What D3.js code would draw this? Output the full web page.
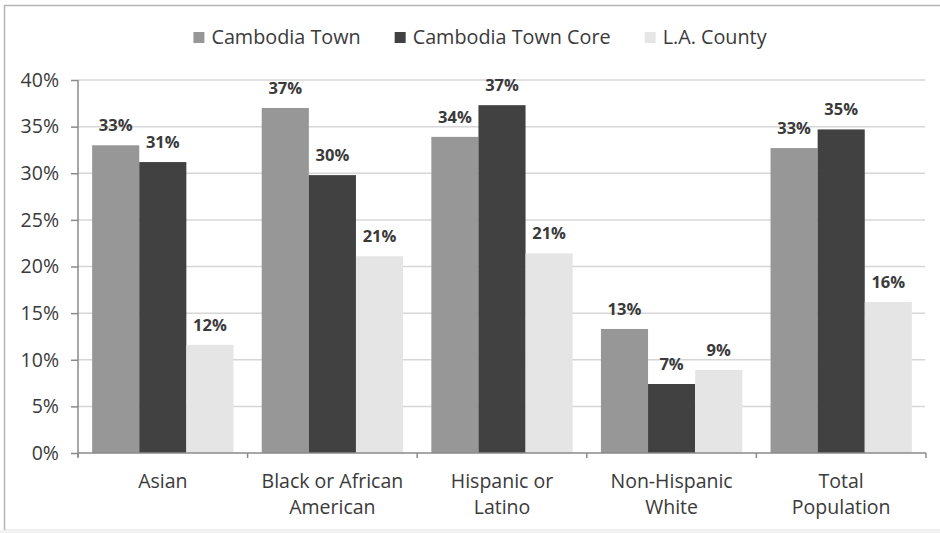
<!DOCTYPE html>
<html>
<head>
<meta charset="utf-8">
<script src="https://cdn.jsdelivr.net/npm/d3@7"></script>
<style>
  body { margin: 0; background: #fff; }
  text { font-family: "Open Sans", sans-serif; fill: #3a3a3a; }
</style>
</head>
<body>
<div id="chart"></div>
<script>
let categories = [
    ['Asian'],
    ['Black or African', 'American'],
    ['Hispanic or', 'Latino'],
    ['Non-Hispanic', 'White'],
    ['Total', 'Population']
];
let series      =   ['Cambodia Town', 'Cambodia Town Core', 'L.A. County'];
let town        =   [33.0, 37.0, 33.9, 13.3, 32.7];
let town_core   =   [31.2, 29.8, 37.3, 7.4, 34.7];
let la_county   =   [11.6, 21.1, 21.4, 8.9, 16.2];
let y_ticks     =   [0, 5, 10, 15, 20, 25, 30, 35, 40];

let colors = ['#979797', '#414141', '#e5e5e5'];
let values = [town, town_core, la_county];

let chart_width     =   940;
let chart_height    =   533;
let plot_left = 78, plot_right = 926, plot_top = 80, plot_bottom = 453;
let font_size = 19.5;

//svg
let svg = d3.select('#chart')
            .append('svg')
            .attr('width', chart_width)
            .attr('height', chart_height);

// frame
svg.append('rect')
  .attr('x', 4.5).attr('y', 5.5)
  .attr('width', 960).attr('height', 525)
  .attr('fill', 'none')
  .attr('stroke', '#b5b5b5')
  .attr('stroke-width', 1.5);
svg.append('rect')
  .attr('x', 0).attr('y', 530)
  .attr('width', chart_width).attr('height', 3)
  .attr('fill', '#f2f2f2');

//scales
let x0 = d3.scaleBand()
        .domain(d3.range(categories.length))
        .range([plot_left, plot_right]);

let x1 = d3.scaleBand()
        .domain(d3.range(series.length))
        .range([0, x0.bandwidth()])
        .paddingOuter(0.3);

let y_scale = d3.scaleLinear()
        .domain([0, 40])
        .range([plot_bottom, plot_top]);

//gridlines
svg.append('g')
  .selectAll('line')
  .data(y_ticks.filter(d => d > 0))
  .enter()
  .append('line')
  .attr('x1', plot_left).attr('x2', plot_right - 1)
  .attr('y1', d => y_scale(d)).attr('y2', d => y_scale(d))
  .attr('stroke', '#d6d6d6')
  .attr('stroke-width', 1.5);

//bars
categories.forEach((c, i) => {
  series.forEach((s, j) => {
    svg.append('rect')
      .attr('x', x0(i) + x1(j))
      .attr('y', y_scale(values[j][i]))
      .attr('width', x1.bandwidth())
      .attr('height', plot_bottom - y_scale(values[j][i]))
      .attr('fill', colors[j]);

    svg.append('text')
      .attr('x', x0(i) + x1(j) + x1.bandwidth() / 2)
      .attr('y', y_scale(values[j][i]) - 14)
      .attr('text-anchor', 'middle')
      .attr('font-size', 16.5)
      .attr('font-weight', 'bold')
      .text(Math.round(values[j][i]) + '%');
  });
});

//y axis
let y_axis = d3.axisLeft(y_scale)
        .tickValues(y_ticks)
        .tickSize(7)
        .tickPadding(12)
        .tickFormat(d => d + '%');

let gy = svg.append('g')
  .attr('transform', 'translate(' + plot_left + ',0)')
  .call(y_axis);
gy.select('.domain').remove();
gy.selectAll('line').attr('stroke', '#8a8a8a').attr('stroke-width', 1.5);
gy.selectAll('text')
  .attr('font-size', font_size)
  .style('font-family', '"Open Sans", sans-serif')
  .attr('fill', '#3a3a3a');

svg.append('line')
  .attr('x1', plot_left).attr('x2', plot_left)
  .attr('y1', plot_top).attr('y2', plot_bottom + 4)
  .attr('stroke', '#8a8a8a').attr('stroke-width', 1.5);

//x axis
svg.append('line')
  .attr('x1', plot_left).attr('x2', plot_right)
  .attr('y1', plot_bottom).attr('y2', plot_bottom)
  .attr('stroke', '#8a8a8a').attr('stroke-width', 1.5);

svg.append('g')
  .selectAll('line')
  .data(d3.range(categories.length + 1))
  .enter()
  .append('line')
  .attr('x1', d => plot_left + d * x0.step())
  .attr('x2', d => plot_left + d * x0.step())
  .attr('y1', plot_bottom).attr('y2', plot_bottom + 5)
  .attr('stroke', '#8a8a8a').attr('stroke-width', 1.5);

//category labels
categories.forEach((c, i) => {
  let t = svg.append('text')
    .attr('x', x0(i) + x0.bandwidth() / 2)
    .attr('y', 488)
    .attr('text-anchor', 'middle')
    .attr('font-size', font_size);
  c.forEach((line, k) => {
    t.append('tspan')
      .attr('x', x0(i) + x0.bandwidth() / 2)
      .attr('dy', k === 0 ? 0 : 26)
      .text(line);
  });
});

//legend
let legend = svg.append('g');
let lx = 0;
series.forEach((s, j) => {
  let g = legend.append('g').attr('transform', 'translate(' + lx + ',0)');
  g.append('rect')
    .attr('x', 0).attr('y', 32)
    .attr('width', 11).attr('height', 11)
    .attr('fill', colors[j]);
  let t = g.append('text')
    .attr('x', 18).attr('y', 44)
    .attr('font-size', 19.8)
    .text(s);
  lx += 18 + t.node().getComputedTextLength() + 34;
});
let lw = lx - 34;
legend.attr('transform', 'translate(' + (480 - lw / 2) + ',0)');
</script>
</body>
</html>
